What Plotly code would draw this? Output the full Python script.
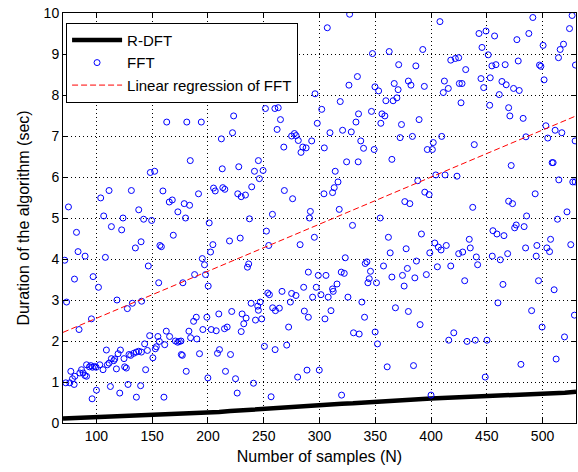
import plotly.graph_objects as go

# ---------------- data ----------------
fft_n = [163,181,
 296,302,194,223,251.5,260,263,265,298,222,212,262,275,277.5,279,281,268,285,288,293,
 327,307,408,347.5,362.5,392.6,417.7,371,386.4,334,326.4,349.7,353,367,370.5,379.7,382,394,412,415.5,411,369.4,366,359.5,318.6,346.6,335,356,358.6,332.7,355,373.5,389.3,309.4,320.7,328.5,337,372.3,383.3,409.6,402,304.3,339.5,349,396.7,401.2,
 491.3,526.5,524.2,443,449.3,457,487.7,477,445.7,500.5,518.8,515.8,451.3,421.8,424.8,514.3,431.1,454.6,458.2,466.5,478.2,497.3,498.5,529.5,453.1,444.8,447.2,463.6,467.4,474,479.1,501.4,425.4,427.8,461.2,426.9,452.6,469.6,470.7,482.6,503,511.3,517.3,485.1,504.7,529.2,438.8,
 184.1,148.3,152.2,111.3,131.3,159.6,103.8,74.9,137.9,165.3,168,173,178.7,183.5,179.9,106.5,123.8,142.3,149.5,113.4,122.6,82.1,168.9,140,134.9,156.9,158.2,83.5,89.8,108,71.6,146.5,80.3,97,101.8,155.8,177.5,
 283.4,212.8,227.6,245.2,241.7,249.4,246.1,205,206.5,213.3,215.1,191.5,226.7,229.8,233.6,239.2,268.5,275.9,291.8,291,237.2,257.8,201.1,252.4,295.4,228.9,219.3,204.4,254.5,282.6,202.3,194.9,196.9,236.5,235.4,188,197.8,290,298.9,200.2,285.8,297.1,
 324.3,334.7,364.9,314.1,316.6,313.2,311.7,304,317.7,388.1,404.3,412.6,394.4,398.3,376.5,381,354.4,329.6,361.8,391.4,403.4,406.6,409,413.7,377.7,363.4,398.9,323.1,386.9,341,342.5,357.4,345.7,378.8,405.7,417.7,305.8,319.5,322.2,364.9,374.4,385.5,395.8,344.6,343.4,351.1,315.7,375.9,311.7,
 508.6,509.5,471.9,423.3,514.6,527.1,529.2,493.4,469.6,473.1,437.4,521.9,485.7,513.4,476.4,475,483.5,455.5,459.1,465.4,434.3,507.2,435.2,424.8,428.4,484.8,494.9,503.9,506.3,525.3,440.6,454.9,462.1,468.7,494.3,441.8,430.2,464.5,496.4,510.4,
 73.2,118.4,127.7,132.2,140.5,95.5,84.4,162.6,165.6,182.9,147.7,155.1,156.4,170.8,172.8,174.3,175.8,184.4,143.2,153.7,152.8,161.2,108.9,121.5,145.7,119.4,140.3,137.9,135.8,133.4,129.2,130.7,124.7,115.5,113.4,116.4,150.6,176.1,177,111.3,109.8,103,91.1,93.7,94.9,96.4,98.2,99.7,105.9,117.9,125.3,126.8,86.6,85.1,88.1,91.1,89.6,77,80.6,78.5,144.1,180.5,72.5,76.1,80,100,112.5,128.3,139.6,120.9,96.1,135.8,160.5,
 253.6,255.1,266.4,275,278.9,293.8,273.9,238.7,246.8,244.6,245.2,258,260.5,264,286.4,290,189.5,187.1,199,209.7,221.3,230.6,234.2,232.1,242.6,248.2,272.3,195.4,202.9,207.4,214.8,217.2,229.8,190,250.6,260.2,270.6,210.3,208.5,192.4,220.2,215.7,199.9,224.7,240.8,280.4,288.8,299.8,226.2,256.6,
 301.3,307.8,312.3,325.5,338,368.1,379.7,310.3,304.9,340.4,390.2,330.5,335.6,349.9,352,360.7,384.3,319.8,400,
 460,490.2,528.6,499.6,420.4,415.9,432.3,439.7,450.2,519.7,512.2,480.6,448.6]

fft_t = [7.34,7.34,
 8.03,7.65,7.34,7.49,7.67,7.67,7.69,7.40,7.31,7.08,6.93,7.16,7.00,7.06,7.01,6.89,6.73,6.73,6.71,6.88,
 9.97,9.64,9.79,9.01,9.06,9.11,8.85,8.74,8.71,8.45,8.24,8.20,8.10,8.28,8.13,8.34,8.24,8.21,8.34,8.16,8.06,7.93,7.86,7.86,7.84,7.60,7.54,7.54,7.49,7.34,7.31,7.28,7.40,7.08,7.14,7.10,6.88,6.96,6.99,6.99,6.84,6.71,6.70,6.67,6.67,6.67,
 9.89,9.94,9.62,9.50,9.56,9.44,9.50,9.35,9.16,9.21,9.24,9.11,8.98,8.89,8.91,8.91,8.62,8.71,8.74,8.74,8.83,8.73,8.70,8.73,8.42,8.40,8.18,8.33,8.25,8.16,8.11,8.37,8.28,8.28,8.01,7.81,7.75,7.69,7.49,7.43,7.25,7.14,7.08,6.98,6.95,6.88,6.79,
 6.40,6.11,6.14,5.67,5.67,5.66,5.49,5.27,5.20,5.39,5.44,5.15,5.35,5.31,5.00,5.05,5.00,4.97,4.94,4.79,4.71,4.65,4.58,4.42,4.27,4.33,4.30,4.18,4.07,4.04,3.97,3.83,3.51,3.57,3.31,3.42,3.42,
 6.60,6.20,6.25,6.40,6.14,6.16,5.96,5.73,5.66,5.74,5.70,5.59,5.59,5.52,5.56,5.76,5.67,5.47,5.16,5.00,4.98,5.09,4.88,4.68,4.53,4.51,4.44,4.35,4.33,4.35,4.17,4.01,3.86,3.88,3.80,3.62,3.62,3.68,3.60,3.34,3.31,3.31,
 6.37,6.37,6.43,6.14,5.88,5.74,5.62,5.59,5.21,5.91,6.05,6.05,5.63,5.57,5.40,5.35,5.00,4.82,4.53,4.61,4.39,4.29,4.22,4.33,4.25,4.15,4.15,4.03,3.95,3.89,3.93,3.83,3.70,3.77,3.81,3.83,3.60,3.68,3.65,3.56,3.60,3.54,3.62,3.52,3.42,3.42,3.39,3.34,3.27,
 6.35,6.35,6.28,6.02,5.93,5.88,5.88,5.59,5.41,5.35,5.26,5.15,5.05,4.97,4.83,4.76,4.79,4.69,4.61,4.57,4.48,4.48,4.27,4.13,4.17,4.27,4.33,4.27,4.18,4.35,4.05,4.07,3.98,4.13,4.07,3.86,3.47,3.38,3.47,3.25,
 2.95,3.00,2.79,2.92,2.97,2.54,2.28,2.24,2.11,2.24,2.13,2.11,1.99,2.00,1.97,1.99,2.00,2.08,1.93,1.86,1.81,1.91,1.78,1.78,1.77,1.69,1.73,1.75,1.73,1.70,1.67,1.65,1.57,1.52,1.57,1.56,1.59,1.67,1.65,1.46,1.42,1.42,1.42,1.37,1.40,1.36,1.38,1.36,1.30,1.32,1.37,1.34,1.30,1.22,1.22,1.14,1.16,1.26,1.14,1.08,1.30,1.26,0.98,0.98,0.94,0.80,0.89,0.94,0.91,0.73,0.59,0.63,0.63,
 3.17,3.13,3.21,3.16,3.11,3.07,2.95,2.92,2.95,2.85,2.75,2.81,2.74,2.80,2.73,2.58,2.58,2.48,2.58,2.66,2.72,2.66,2.56,2.42,2.51,2.54,2.34,2.28,2.28,2.25,2.30,2.34,2.23,2.05,1.87,1.79,1.90,1.79,1.70,1.69,1.67,1.26,1.10,1.08,0.97,1.12,1.29,1.29,0.73,0.64,
 3.13,3.07,3.21,3.07,2.95,2.81,2.72,2.74,2.54,2.58,2.40,2.20,2.17,2.22,1.93,1.37,1.40,0.68,0.68,
 2.93,2.74,2.63,2.34,2.20,2.02,1.99,2.02,2.02,2.10,1.56,1.43,1.12]

rdft_n = [70,80,90,100,110,120,130,140,150,160,170,180,190,200,210,220,230,240,250,260,270,280,290,300,
          310,320,330,340,350,360,370,380,390,400,410,420,430,440,450,460,470,480,490,500,510,520,530]
rdft_t = [0.11,0.12,0.13,0.14,0.15,0.16,0.17,0.18,0.20,0.21,0.22,0.23,0.24,0.26,0.27,0.29,0.31,0.33,0.35,0.36,0.38,0.40,0.43,0.45,
          0.46,0.47,0.48,0.50,0.51,0.53,0.55,0.56,0.58,0.60,0.61,0.62,0.63,0.64,0.66,0.67,0.68,0.69,0.70,0.72,0.73,0.74,0.76]

reg_n = [70, 530]
reg_t = [2.21, 7.49]

x_ticks = [100, 150, 200, 250, 300, 350, 400, 450, 500]
y_ticks = [0, 1, 2, 3, 4, 5, 6, 7, 8, 9, 10]

FONT = "Liberation Sans, Arial, sans-serif"

fig = go.Figure()
fig.add_trace(go.Scatter(x=rdft_n, y=rdft_t, mode="lines", name="R-DFT",
                         line=dict(color="black", width=4.5)))
fig.add_trace(go.Scatter(x=fft_n, y=fft_t, mode="markers", name="FFT",
                         marker=dict(symbol="circle-open", size=6, color="#0000ff",
                                     line=dict(width=1, color="#0000ff"))))
fig.add_trace(go.Scatter(x=reg_n, y=reg_t, mode="lines", name="Linear regression of FFT",
                         line=dict(color="#ff0000", width=1, dash="6px,3px")))

axis_common = dict(showline=True, linecolor="black", linewidth=1, mirror="allticks",
                   ticks="inside", ticklen=5, tickcolor="black",
                   showgrid=True, gridcolor="#000000", gridwidth=1, griddash="1px,3px",
                   zeroline=False, automargin=False,
                   tickfont=dict(family=FONT, size=14, color="black"))

fig.update_xaxes(range=[70, 530], tickvals=x_ticks,
                 title=dict(text="Number of samples (N)", font=dict(family=FONT, size=16, color="black"), standoff=8),
                 **axis_common)
fig.update_yaxes(range=[0, 10], tickvals=y_ticks,
                 title=dict(text="Duration of the algorithm (sec)", font=dict(family=FONT, size=16, color="black"), standoff=10),
                 **axis_common)

fig.update_layout(
    width=578, height=472,
    margin=dict(l=63, r=2, t=13, b=49),
    paper_bgcolor="white", plot_bgcolor="white",
    showlegend=True,
    legend=dict(x=0.006, y=0.976, xanchor="left", yanchor="top",
                bgcolor="white", bordercolor="black", borderwidth=1, itemwidth=50,
                font=dict(family=FONT, size=15, color="black"), tracegroupgap=0),
)

fig.write_html("out.html", config={"displayModeBar": False},
               post_script="document.body.style.margin='0';document.body.style.overflow='hidden';")
